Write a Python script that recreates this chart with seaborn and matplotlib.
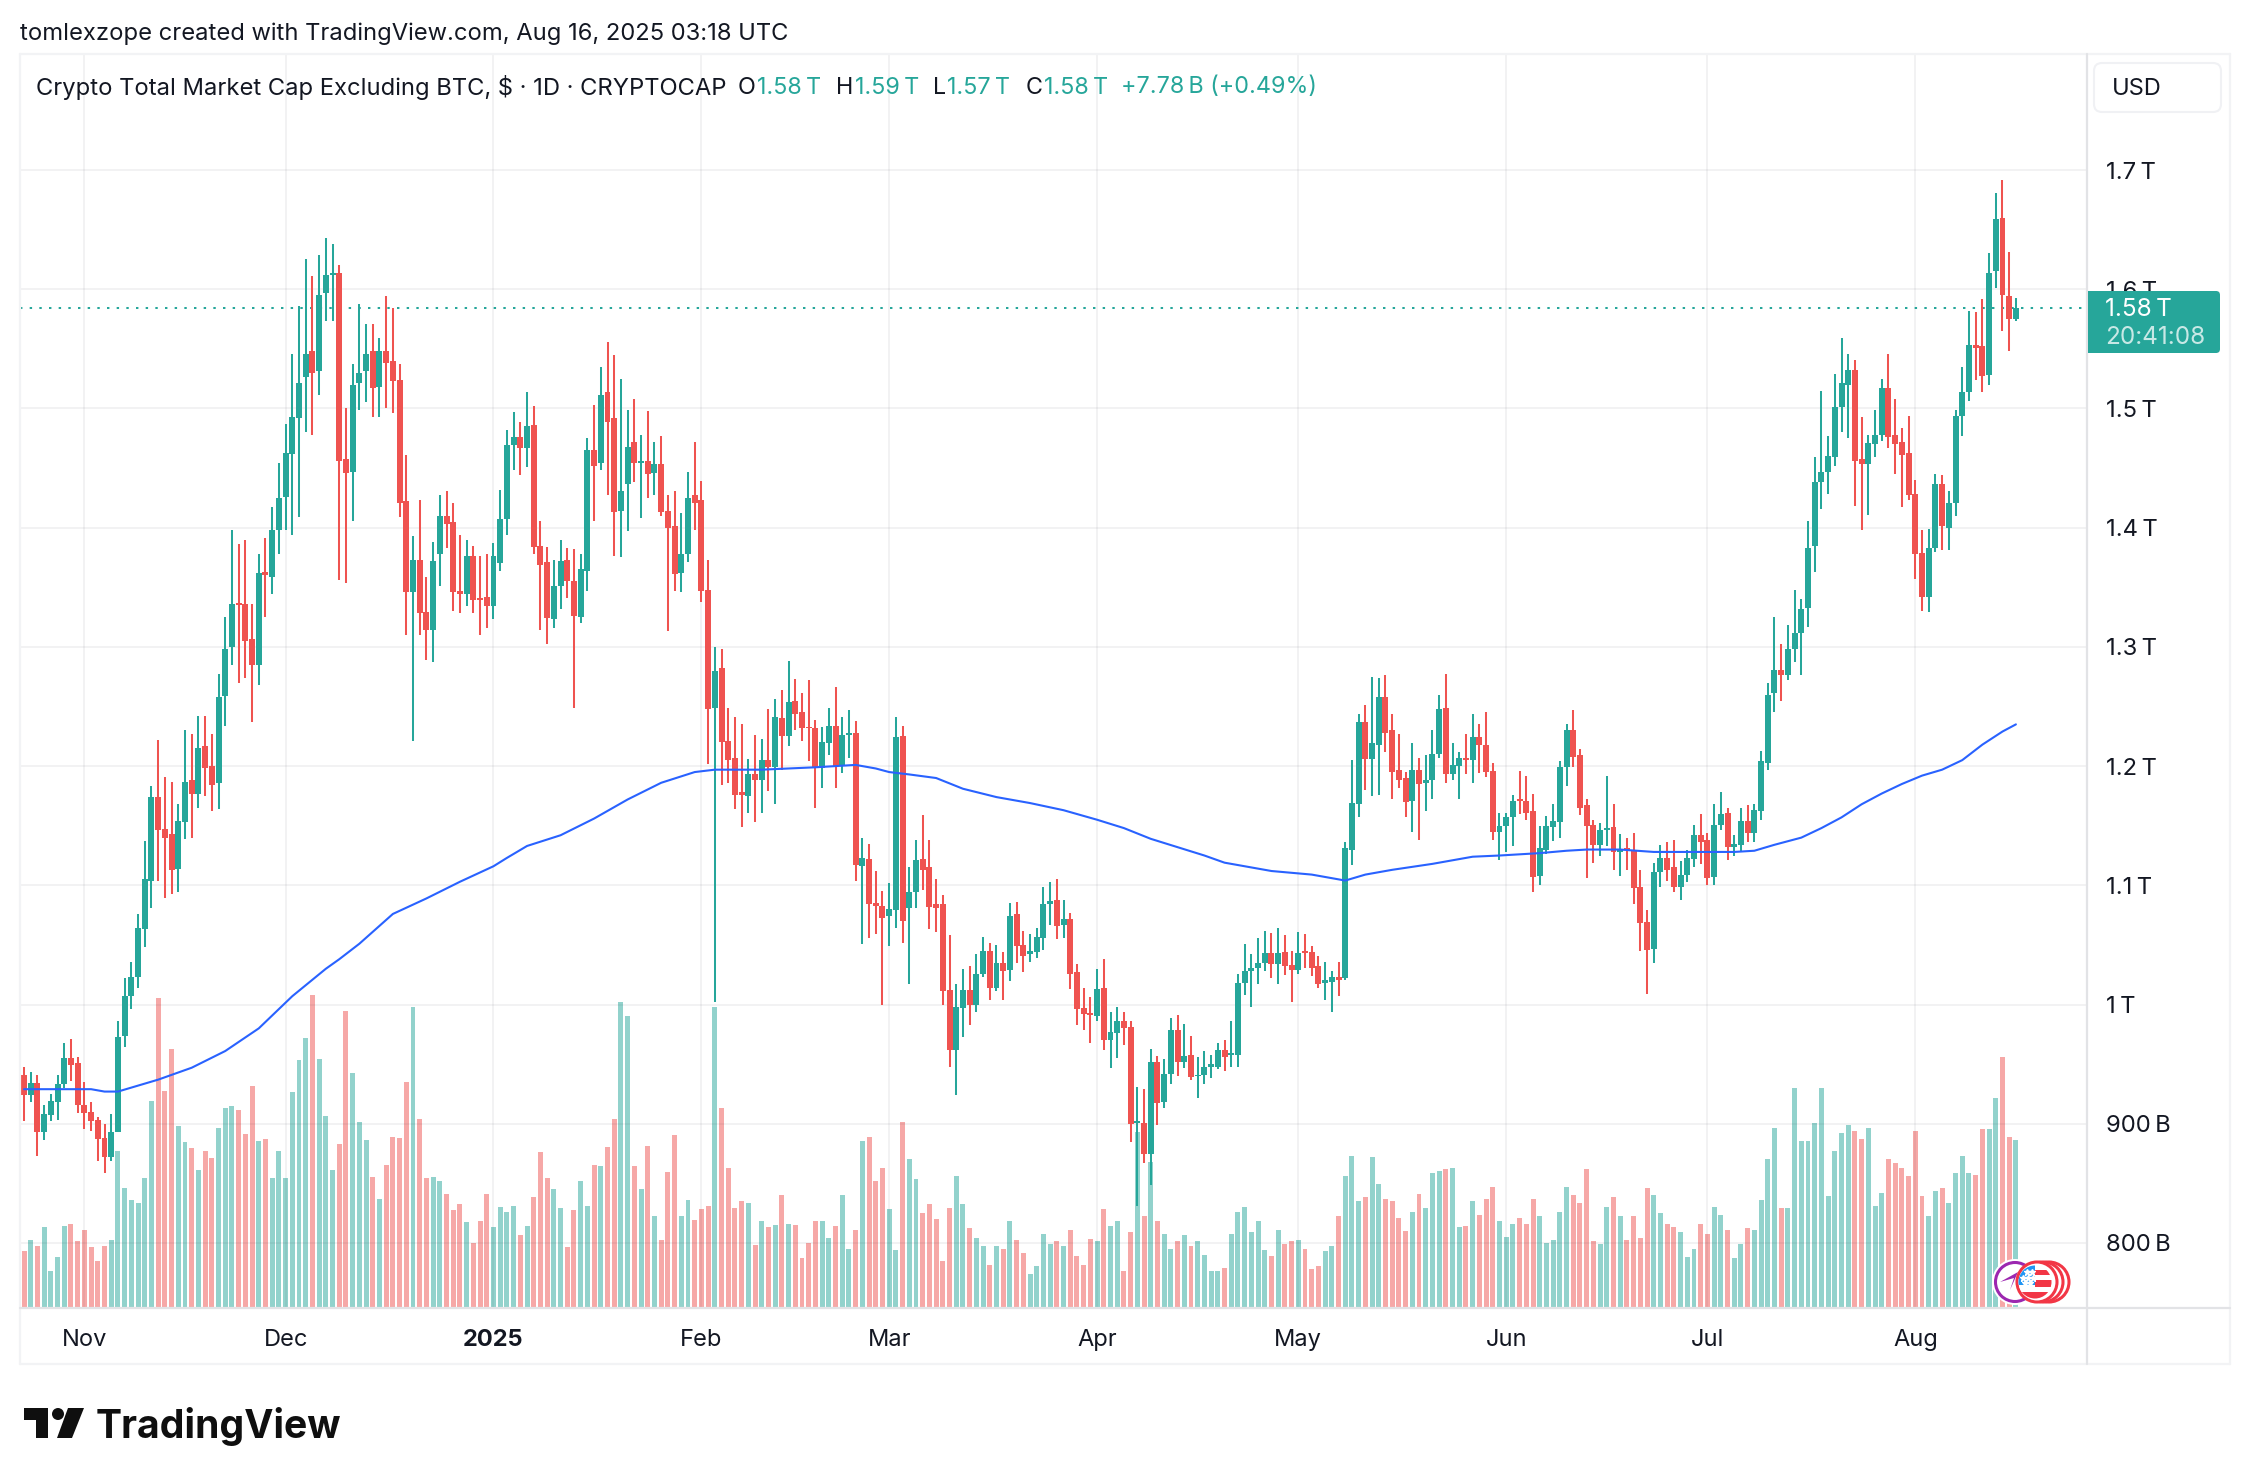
import matplotlib
matplotlib.use('Agg')
import numpy as np
import pandas as pd
import seaborn as sns
import matplotlib.pyplot as plt
from matplotlib.lines import Line2D
from matplotlib.patches import Circle, Polygon, Rectangle, FancyBboxPatch
from matplotlib.transforms import Affine2D

# daily candles, Oct 23 2024 .. Aug 16 2025, in billions USD
opens = [941,924,934,893,907,918,933,955,951,916, 910,903,888,872,893,974,1007,1023,1063,1104,
         1174,1147,1143,1114,1153,1188,1177,1217,1200,1186, 1259,1300,1337,1336,1307,1285,1363,1359,1398,1426,
         1462,1492,1526,1548,1531,1597,1612,1614,1458,1447, 1521,1531,1548,1518,1548,1540,1524,1422,1346,1373,
         1329,1314,1378,1410,1405,1347,1344,1376,1341,1342, 1334,1370,1407,1469,1476,1467,1486,1385,1371,1323,
         1351,1373,1355,1325,1364,1465,1454,1514,1492,1414, 1437,1472,1454,1456,1446,1453,1414,1401,1362,1378,
         1427,1423,1348,1249,1282,1221,1207,1178,1175,1193, 1188,1205,1199,1240,1225,1255,1245,1233,1232,1198,
         1219,1234,1200,1226,1228,1116,1122,1085,1083,1074, 1079,1225,1081,1094,1122,1115,1084,1084,1012,962,
         997,1012,1000,1026,1045,1014,1035,1029,1076,1050, 1042,1044,1056,1084,1088,1067,1072,1027,997,993,
         990,1014,970,976,986,981,901,901,875,952, 918,942,979,952,958,940,941,948,948,962,
         958,958,1018,1028,1031,1035,1043,1034,1044,1033, 1029,1045,1044,1032,1018,1019,1023,1022,1130,1168,
         1237,1206,1218,1258,1230,1197,1190,1171,1197,1186, 1188,1210,1249,1193,1200,1207,1205,1224,1218,1196,
         1145,1150,1157,1172,1171,1162,1108,1130,1149,1153, 1199,1230,1209,1167,1151,1134,1146,1149,1128,1131,
         1130,1099,1069,1047,1111,1123,1115,1099,1109,1122, 1142,1138,1107,1151,1161,1132,1134,1154,1144,1162,
         1203,1261,1281,1276,1298,1312,1333,1385,1438,1447, 1459,1501,1520,1532,1458,1453,1470,1478,1517,1478,
         1472,1463,1428,1379,1342,1383,1437,1400,1421,1494, 1514,1553,1552,1528,1615,1660,1594,1575]
closes = [924,934,893,908,919,933,955,949,916,909, 902,887,872,893,973,1007,1023,1064,1105,1174,
          1146,1140,1113,1154,1187,1177,1215,1198,1184,1258, 1298,1336,1335,1305,1285,1362,1360,1398,1425,1463,
          1493,1521,1546,1530,1595,1612,1614,1456,1446,1520, 1530,1546,1517,1548,1538,1523,1421,1346,1373,1328,
          1314,1372,1410,1403,1346,1344,1376,1339,1339,1334, 1376,1407,1469,1476,1467,1485,1384,1369,1324,1351,
          1372,1355,1326,1365,1465,1452,1511,1489,1413,1431, 1468,1454,1456,1445,1453,1413,1400,1361,1378,1425,
          1421,1347,1248,1280,1220,1205,1176,1176,1193,1188, 1205,1199,1241,1225,1254,1244,1232,1232,1198,1220,
          1234,1200,1226,1228,1117,1123,1084,1083,1073,1080, 1224,1070,1094,1121,1113,1082,1081,1011,962,998,
          1012,1000,1026,1045,1014,1035,1028,1074,1049,1041, 1045,1057,1084,1087,1066,1072,1026,996,992,991,
          1013,970,977,986,980,900,902,875,952,917, 942,979,952,957,939,941,948,950,962,956,
          959,1018,1028,1031,1035,1043,1034,1043,1032,1029, 1043,1043,1031,1017,1021,1023,1021,1131,1169,1237,
          1206,1219,1258,1228,1195,1188,1170,1197,1185,1188, 1210,1248,1193,1201,1207,1205,1224,1218,1195,1145,
          1150,1157,1171,1171,1161,1107,1131,1150,1154,1199, 1230,1208,1165,1150,1134,1146,1148,1128,1130,1130,
          1098,1068,1046,1111,1123,1113,1099,1109,1123,1142, 1136,1106,1151,1160,1132,1135,1154,1144,1163,1204,
          1260,1281,1276,1298,1312,1332,1383,1438,1447,1460, 1501,1521,1532,1456,1453,1471,1478,1517,1476,1470,
          1461,1427,1378,1342,1383,1437,1401,1421,1494,1514, 1553,1551,1527,1614,1659,1595,1575,1584]
highs = [948,943,941,916,925,941,968,971,956,935, 918,906,900,908,986,1022,1036,1076,1137,1183,
         1222,1191,1187,1168,1230,1227,1242,1242,1227,1277, 1325,1398,1386,1390,1336,1378,1391,1417,1454,1487,
         1546,1586,1625,1611,1629,1643,1638,1620,1500,1537, 1588,1571,1571,1559,1594,1584,1537,1461,1393,1423,
         1359,1388,1427,1431,1421,1394,1390,1385,1376,1378, 1387,1432,1482,1497,1489,1514,1502,1406,1384,1373,
         1390,1383,1382,1378,1475,1503,1535,1556,1545,1525, 1499,1508,1478,1498,1472,1477,1427,1431,1412,1447,
         1472,1439,1373,1300,1298,1249,1241,1235,1206,1226, 1223,1248,1256,1264,1288,1273,1261,1272,1239,1233,
         1249,1266,1241,1247,1238,1140,1135,1112,1095,1102, 1241,1234,1115,1138,1159,1138,1105,1092,1058,1017,
         1030,1032,1042,1057,1052,1050,1044,1085,1086,1062, 1059,1064,1099,1103,1105,1088,1077,1034,1014,1006,
         1030,1038,994,998,994,986,931,929,963,957, 954,989,991,984,974,956,961,958,968,970,
         986,1026,1051,1042,1056,1062,1060,1064,1058,1045, 1061,1059,1049,1041,1036,1028,1036,1136,1205,1244,
         1251,1275,1274,1276,1244,1227,1195,1219,1207,1209, 1230,1260,1277,1219,1212,1227,1244,1235,1245,1203,
         1161,1161,1176,1196,1192,1177,1150,1158,1168,1204, 1235,1247,1214,1172,1155,1152,1192,1168,1143,1140,
         1144,1113,1079,1119,1134,1136,1138,1120,1130,1151, 1160,1144,1168,1178,1165,1142,1165,1167,1168,1213,
         1270,1325,1302,1318,1348,1340,1406,1459,1515,1477, 1529,1559,1546,1541,1493,1478,1499,1525,1546,1508,
         1484,1494,1440,1398,1399,1445,1444,1431,1499,1535, 1582,1581,1592,1630,1681,1692,1631,1593]
lows = [902,918,873,886,902,903,930,936,909,896, 894,869,859,869,893,964,996,1014,1048,1081,
        1104,1089,1093,1094,1139,1140,1165,1175,1162,1164, 1234,1285,1270,1274,1237,1268,1325,1344,1378,1398,
        1394,1409,1480,1478,1511,1573,1573,1356,1354,1406, 1499,1505,1493,1493,1500,1496,1409,1310,1221,1310,
        1289,1287,1351,1383,1330,1328,1334,1328,1310,1316, 1323,1364,1394,1448,1444,1451,1378,1314,1302,1316,
        1332,1341,1249,1320,1347,1406,1448,1427,1376,1375, 1397,1438,1408,1425,1427,1410,1313,1347,1346,1371,
        1398,1338,1202,1002,1184,1186,1164,1149,1161,1153, 1161,1179,1168,1197,1217,1230,1221,1204,1165,1182,
        1209,1182,1194,1207,1104,1051,1056,1059,1000,1049, 1064,1052,1017,1081,1096,1063,1061,1000,948,924,
        973,983,994,1023,1004,1011,1004,1020,1035,1027, 1036,1039,1046,1067,1055,1056,1013,983,979,968,
        986,962,947,955,966,885,831,867,849,899, 913,933,940,947,937,922,933,938,946,944,
        948,948,1008,998,1017,1028,1022,1017,1025,1002, 1026,1031,1024,1014,1004,994,1007,1021,1117,1157,
        1180,1175,1176,1212,1172,1182,1157,1145,1138,1162, 1172,1207,1186,1188,1172,1193,1186,1194,1191,1138,
        1121,1128,1133,1160,1155,1094,1100,1126,1137,1140, 1183,1199,1159,1106,1119,1125,1133,1113,1108,1113,
        1084,1045,1009,1035,1099,1104,1094,1088,1103,1115, 1118,1100,1100,1146,1121,1125,1129,1136,1136,1155,
        1197,1245,1255,1272,1287,1276,1317,1363,1416,1428, 1452,1480,1475,1418,1398,1411,1459,1473,1467,1445,
        1417,1423,1357,1330,1329,1380,1381,1381,1410,1477, 1506,1524,1514,1520,1601,1565,1548,1573]
volumes = [47,56,51,67,30,42,68,70,55,65, 50,39,51,56,131,100,90,87,108,173,
           259,181,216,152,138,133,115,131,125,150, 167,169,165,145,185,139,141,108,131,108,
           180,207,226,262,208,160,115,137,248,196, 155,140,109,91,119,143,142,189,252,158,
           108,109,106,95,81,86,71,54,72,95, 67,84,80,85,60,68,92,130,108,99,
           83,50,81,106,85,119,118,134,158,256, 244,118,99,135,76,56,113,144,76,90,
           73,82,85,252,167,117,83,89,87,52, 72,67,69,94,70,69,41,54,72,72,
           58,68,94,49,65,139,143,106,117,82, 48,155,124,107,79,86,74,39,83,110,
           86,66,58,51,35,51,49,72,56,45, 28,34,61,53,55,51,65,43,35,57,
           55,82,68,72,30,63,147,76,122,72, 61,49,55,60,51,55,44,30,30,33,
           61,80,84,63,72,48,43,65,53,55, 56,49,32,34,47,51,76,110,127,89,
           92,126,103,91,89,75,64,80,95,83, 112,114,116,117,67,68,89,77,91,101,
           72,59,70,75,70,91,76,54,56,80, 101,94,87,116,55,53,84,92,76,56,
           76,58,100,94,79,70,67,63,42,49, 70,61,84,77,65,41,53,66,65,90,
           124,150,83,83,184,139,139,154,184,93, 131,146,153,148,141,150,85,96,124,121,
           117,110,148,93,76,97,100,87,112,127, 112,111,149,149,175,210,143,140]

# moving average read at these candle numbers
ma_idx = [0,5,10,12,14,20,25,30,35,40,45,47,50,55,60,65,70,72,75,80,85,90,95,100,103,110,118,
          124,127,129,132,136,140,145,150,155,160,164,168,172,176,179,181,186,192,197,200,204,
          210,216,220,226,230,233,238,243,250,255,258,261,265,268,271,274,277,280,283,286,289,292,295,297]
ma_val = [929,929,929,927,927,937,947,961,980,1007,1030,1038,1051,1076,1089,1103,1116,1123,1133,1142,1156,1172,1186,1195,1197,1197,1199,
          1201,1198,1195,1193,1190,1181,1174,1169,1163,1155,1148,1139,1132,1125,1119,1117,1112,1109,1104,1109,1113,
          1118,1124,1125,1127,1129,1130,1130,1128,1128,1128,1129,1134,1140,1148,1157,1168,1177,1185,1192,1197,1205,1218,1229,1235]

price_ticks = [1700,1600,1500,1400,1300,1200,1100,1000,900,800]
price_labels = ['1.7\u2009T','1.6\u2009T','1.5\u2009T','1.4\u2009T','1.3\u2009T','1.2\u2009T','1.1\u2009T','1\u2009T','900\u2009B','800\u2009B']
month_starts = ['2024-11-01','2024-12-01','2025-01-01','2025-02-01','2025-03-01','2025-04-01','2025-05-01','2025-06-01','2025-07-01','2025-08-01']
month_labels = ['Nov','Dec','2025','Feb','Mar','Apr','May','Jun','Jul','Aug']

UP = '#26A69A'
DOWN = '#EF5350'
BLUE = '#2962FF'
INK = '#131722'
W, H = 2250, 1484

sns.set_theme(style='white')
plt.rcParams['font.family'] = ['Inter', 'DejaVu Sans']

fig = plt.figure(figsize=(W / 100, H / 100), dpi=100, facecolor='white')
ax = fig.add_axes([20 / W, 1 - 1307 / H, (2087 - 20) / W, (1307 - 54) / H])
ax_vol = ax.twinx()
px = Affine2D().scale(1, -1).translate(0, H)  # top-left pixel coords for the decorations

df = pd.DataFrame({'i': np.arange(len(opens)), 'o': opens, 'h': highs, 'l': lows, 'c': closes, 'v': volumes})
df['up'] = df.c >= df.o
df['color'] = np.where(df.up, UP, DOWN)

# volume pane behind the candles
sns.barplot(data=df, x='i', y='v', hue='up', palette={True: UP, False: DOWN}, native_scale=True,
            dodge=False, width=0.74, saturation=1, alpha=0.5, linewidth=0, legend=False, ax=ax_vol)
ax_vol.set_ylim(0, 1051)
ax_vol.set_yticks([])
ax_vol.set_ylabel('')

ax.set_zorder(ax_vol.get_zorder() + 1)
ax.patch.set_visible(False)

ax.vlines(df.i, df.l, df.h, colors=df.color, linewidth=1.45, zorder=3)
ax.bar(df.i, (df.c - df.o).abs(), bottom=df[['o', 'c']].min(axis=1), width=0.89, color=df.color, linewidth=0, zorder=4)
sns.lineplot(x=ma_idx, y=ma_val, color=BLUE, linewidth=1.5, ax=ax, zorder=5)
ax.axhline(closes[-1], color=UP, linewidth=1.45, linestyle=(0, (1.2, 3.6)), zorder=2)

first_day = pd.Timestamp('2024-10-23')
month_idx = [(pd.Timestamp(d) - first_day).days for d in month_starts]
ax.set_xlim(-0.6, 307.6)
ax.set_ylim(746.3, 1797.3)
ax.set_xticks(month_idx)
ax.set_xticklabels(month_labels)
ax.set_yticks(price_ticks)
ax.set_yticklabels(price_labels)
ax.yaxis.tick_right()
ax.tick_params(axis='y', length=0, pad=13.7, labelsize=17.2, labelcolor=INK)
ax.tick_params(axis='x', length=0, pad=16, labelsize=17, labelcolor=INK)
ax.set_xlabel('')
ax.set_ylabel('')
ax.get_xticklabels()[2].set_fontweight('bold')
ax.grid(True, color='#2A2E39', alpha=0.06, linewidth=1.4)
ax.set_axisbelow(True)
for sp in list(ax.spines.values()) + list(ax_vol.spines.values()):
    sp.set_visible(False)

# frame and pane separators
for x0, y0, x1, y1, col in [(20, 54, 2230, 54, '#F2F3F5'), (20, 1364, 2230, 1364, '#F2F3F5'),
                            (20, 54, 20, 1364, '#F2F3F5'), (2230, 54, 2230, 1364, '#F2F3F5'),
                            (20, 1308, 2230, 1308, '#E2E3E6'), (2087, 54, 2087, 1364, '#E2E3E6')]:
    fig.add_artist(Line2D([x0, x1], [y0, y1], transform=px, color=col, linewidth=1.6, zorder=4))

# header texts
fig.text(20, 33.5, 'tomlexzope created with TradingView.com, Aug 16, 2025 03:18 UTC', transform=px,
         fontsize=17.1, color=INK, va='center')
legend_row = [(36, 'Crypto Total Market Cap Excluding BTC, $ \u00b7 1D \u00b7 CRYPTOCAP', INK),
              (738, 'O', INK), (757, '1.58\u2009T', UP), (836, 'H', INK), (855, '1.59\u2009T', UP),
              (933, 'L', INK), (947, '1.57\u2009T', UP), (1026, 'C', INK), (1044, '1.58\u2009T', UP),
              (1121, '+7.78\u2009B (+0.49%)', UP)]
for x, s, col in legend_row:
    fig.text(x, 87.5, s, transform=px, fontsize=17.1 if col == INK and len(s) > 1 else 16.8, color=col, va='center')

# USD box
fig.add_artist(FancyBboxPatch((2094, 63), 127, 49, boxstyle='round,pad=0,rounding_size=8', transform=px,
                              facecolor='white', edgecolor='#F0F1F4', linewidth=1.5, zorder=4))
fig.text(2137, 89, 'USD', transform=px, fontsize=17, color=INK, ha='center', va='center', zorder=5)

# last price tag
fig.add_artist(FancyBboxPatch((2088, 291), 132, 62, boxstyle='round,pad=0,rounding_size=4', transform=px,
                              facecolor=UP, edgecolor='none', zorder=6))
fig.add_artist(Rectangle((2088, 291), 20, 62, transform=px, facecolor=UP, edgecolor='none', zorder=6))
fig.text(2105, 310, '1.58\u2009T', transform=px, fontsize=17.5, color='white', va='center', zorder=7)
fig.text(2105, 338, '20:41:08', transform=px, fontsize=17.5, color='white', alpha=0.75, va='center', zorder=7)

# event badges at the last candles
fig.add_artist(Circle((2015, 1282), 23, transform=px, facecolor='white', edgecolor='none', zorder=6))
fig.add_artist(Circle((2015, 1282), 19.5, transform=px, facecolor='white', edgecolor='#9C27B0', linewidth=2.2, zorder=6))
fig.add_artist(Polygon([(2010, 1290), (2014, 1278), (2000, 1282), (2018, 1272)], transform=px,
                       facecolor='#9C27B0', edgecolor='none', zorder=6))
for cx in (2049, 2043, 2037):
    fig.add_artist(Circle((cx, 1282), 20, transform=px, facecolor='white', edgecolor='#F23645', linewidth=2.2, zorder=7))
flag = Circle((2035, 1282), 16.5, transform=px, facecolor='white', edgecolor='none', zorder=8)
fig.add_artist(flag)
for xy, w, h, col in [((2015, 1292), 40, 8, '#F23645'), ((2035, 1270), 20, 5, '#F23645'), ((2035, 1280), 20, 7, '#F23645'),
                      ((2015, 1264), 20, 21, '#2196F3')]:
    r = Rectangle(xy, w, h, transform=px, facecolor=col, edgecolor='none', zorder=9)
    fig.add_artist(r)
    r.set_clip_path(flag)
for sx, sy in [(2027, 1272), (2032, 1272), (2023, 1278), (2028, 1278), (2033, 1278), (2025, 1283), (2030, 1283)]:
    fig.add_artist(Line2D([sx], [sy], transform=px, marker='*', markersize=4.5, color='white', linewidth=0, zorder=10))

# TradingView logo
logo = [Polygon([(24, 1408), (48, 1408), (48, 1438), (36, 1438), (36, 1420), (24, 1420)], transform=px),
        Circle((58, 1414), 6, transform=px),
        Polygon([(68, 1408), (84, 1408), (72, 1438), (57, 1438)], transform=px)]
for part in logo:
    part.set_facecolor('#0F0F0F')
    part.set_edgecolor('none')
    fig.add_artist(part)
fig.text(96, 1427, 'TradingView', transform=px, fontsize=28.2, fontweight='bold', color='#0F0F0F', va='center')

fig.savefig('out.png', dpi=100)
